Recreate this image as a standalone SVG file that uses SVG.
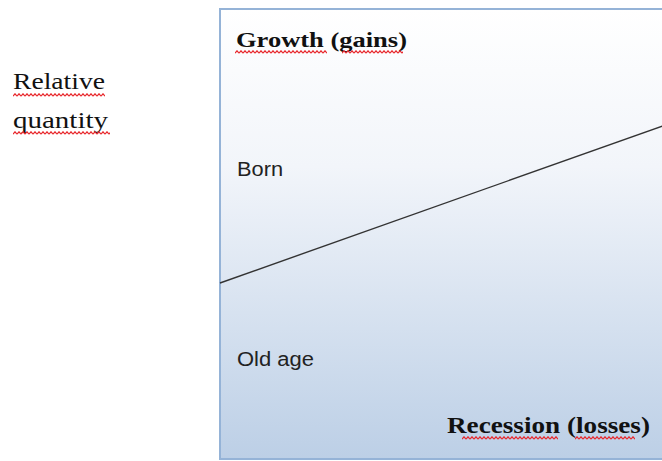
<svg xmlns="http://www.w3.org/2000/svg" width="662" height="461" viewBox="0 0 662 461">
<defs>
<linearGradient id="bg" x1="0" y1="0" x2="0" y2="1">
<stop offset="0" stop-color="#ffffff"/>
<stop offset="0.35" stop-color="#f2f5fa"/>
<stop offset="1" stop-color="#bccfe6"/>
</linearGradient>
<pattern id="wave" width="4" height="4" patternUnits="userSpaceOnUse">
<path d="M0,3.2 L2,0.8 L4,3.2" stroke="#e8262b" stroke-width="1.2" fill="none"/>
</pattern>
<style>
.serif{font-family:"Liberation Serif","Times New Roman",serif;fill:#111}
.sans{font-family:"Liberation Sans",Arial,sans-serif;fill:#222;font-size:20px}
.b{font-weight:bold}
</style>
</defs>
<rect width="662" height="461" fill="#ffffff"/>
<g id="chart">
<rect x="220" y="9" width="450" height="450" fill="url(#bg)" stroke="#95b3d7" stroke-width="2"/>
</g>
<g id="connectors">
<line x1="220" y1="283" x2="664" y2="125.5" stroke="#333333" stroke-width="1.4"/>
</g>
<g id="ylabel">
<text class="serif" x="13" y="89" font-size="24" textLength="92" lengthAdjust="spacingAndGlyphs">Relative</text>
<text class="serif" x="13" y="128" font-size="24" textLength="95" lengthAdjust="spacingAndGlyphs">quantity</text>
<g transform="translate(13,93)"><rect width="92" height="4" fill="url(#wave)"/></g>
<g transform="translate(13,131)"><rect width="97" height="4" fill="url(#wave)"/></g>
</g>
<g id="growth">
<text class="serif b" x="236" y="47" font-size="22" textLength="171" lengthAdjust="spacingAndGlyphs">Growth (gains)</text>
<g transform="translate(235,50)"><rect width="92" height="4" fill="url(#wave)"/></g>
<g transform="translate(342,50)"><rect width="61" height="4" fill="url(#wave)"/></g>
</g>
<g id="born">
<text class="sans" x="237" y="176" textLength="46" lengthAdjust="spacingAndGlyphs">Born</text>
</g>
<g id="oldage">
<text class="sans" x="237" y="366" textLength="77" lengthAdjust="spacingAndGlyphs">Old age</text>
</g>
<g id="recession">
<text class="serif b" x="447" y="433" font-size="23" textLength="203" lengthAdjust="spacingAndGlyphs">Recession (losses)</text>
<g transform="translate(462,436)"><rect width="96" height="4" fill="url(#wave)"/></g>
<g transform="translate(575,436)"><rect width="60" height="4" fill="url(#wave)"/></g>
</g>
</svg>
